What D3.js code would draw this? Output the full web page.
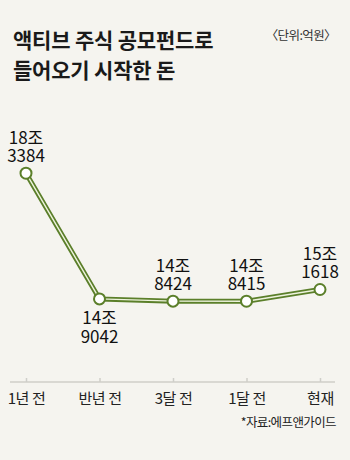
<!DOCTYPE html>
<html>
<head>
<meta charset="utf-8">
<script src="https://cdn.jsdelivr.net/npm/d3@7"></script>
<style>
  body { margin: 0; background: #f5f4ef; }
  svg { display: block; font-family: "Noto Sans CJK KR", "Noto Sans", sans-serif; }
</style>
</head>
<body>
<div id="chart"></div>
<script>
// 기간별 액티브 주식 공모펀드 설정액 (억원)
const periods = ['1년 전', '반년 전', '3달 전', '1달 전', '현재']
const amounts = [183384, 149042, 148424, 148415, 151618]
const labelBelow = [false, true, false, false, false]

const width = 350
const height = 460
const narrow = '"Liberation Sans Narrow", "Noto Sans CJK KR", sans-serif'

const svg = d3.select('#chart')
    .append('svg')
    .attr('width', width)
    .attr('height', height)

svg.append('rect')
    .attr('width', width)
    .attr('height', height)
    .attr('fill', '#f5f4ef')

// title
const title = svg.append('text')
    .attr('x', 13)
    .attr('font-size', 21)
    .attr('font-weight', 'bold')
    .attr('fill', '#1a1a1a')
    .attr('letter-spacing', -0.2)
title.append('tspan').attr('x', 13).attr('y', 48).text('액티브 주식 공모펀드로')
title.append('tspan').attr('x', 13).attr('y', 78).text('들어오기 시작한 돈')

svg.append('text')
    .attr('x', 336)
    .attr('y', 40)
    .attr('text-anchor', 'end')
    .attr('font-size', 12.5)
    .attr('fill', '#333')
    .attr('letter-spacing', -0.6)
    .text('〈단위:억원〉')

const x = d3.scalePoint()
    .domain(periods)
    .range([26, 320])

const y = d3.scaleLinear()
    .domain([140000, 190000])
    .range([332, 149])

// x axis
const axisY = 382
const axis = svg.append('g')
    .attr('transform', `translate(0,${axisY})`)
    .call(d3.axisBottom(x).tickSize(-4).tickPadding(8))

axis.select('.domain').remove()
axis.insert('line', ':first-child')
    .attr('x1', 10)
    .attr('x2', 335)
    .attr('stroke', '#cfcfc9')
    .attr('stroke-width', 1.5)
axis.selectAll('.tick line')
    .attr('stroke', '#cfcfc9')
    .attr('stroke-width', 1.5)
axis.selectAll('.tick text')
    .attr('font-family', narrow)
    .attr('font-size', 15)
    .attr('fill', '#222')
    .attr('letter-spacing', -0.4)
    .attr('dy', '0.9em')

// line (double stroke)
const line = d3.line()
    .x((d, i) => x(periods[i]))
    .y(d => y(d))

svg.append('path')
    .datum(amounts)
    .attr('d', line)
    .attr('fill', 'none')
    .attr('stroke', '#5b7f2a')
    .attr('stroke-width', 5)
    .attr('stroke-linejoin', 'round')

svg.append('path')
    .datum(amounts)
    .attr('d', line)
    .attr('fill', 'none')
    .attr('stroke', '#eef3de')
    .attr('stroke-width', 1.4)
    .attr('stroke-linejoin', 'round')

svg.selectAll('.dot')
    .data(amounts)
    .enter().append('circle')
    .attr('class', 'dot')
    .attr('cx', (d, i) => x(periods[i]))
    .attr('cy', d => y(d))
    .attr('r', 5.5)
    .attr('fill', '#fff')
    .attr('stroke', '#5b7f2a')
    .attr('stroke-width', 2)

// value labels
const labels = svg.selectAll('.val')
    .data(amounts)
    .enter().append('text')
    .attr('class', 'val')
    .attr('text-anchor', 'middle')
    .attr('font-family', narrow)
    .attr('font-size', 17)
    .attr('fill', '#111')

labels.append('tspan')
    .attr('x', (d, i) => x(periods[i]))
    .attr('y', (d, i) => labelBelow[i] ? y(d) + 25 : y(d) - 29)
    .text(d => `${Math.floor(d / 10000)}조`)

labels.append('tspan')
    .attr('x', (d, i) => x(periods[i]))
    .attr('y', (d, i) => labelBelow[i] ? y(d) + 44 : y(d) - 11)
    .text(d => `${d % 10000}`)

svg.append('text')
    .attr('x', 336)
    .attr('y', 427)
    .attr('text-anchor', 'end')
    .attr('font-size', 12.5)
    .attr('fill', '#222')
    .attr('letter-spacing', -0.6)
    .text('*자료:에프앤가이드')
</script>
</body>
</html>
